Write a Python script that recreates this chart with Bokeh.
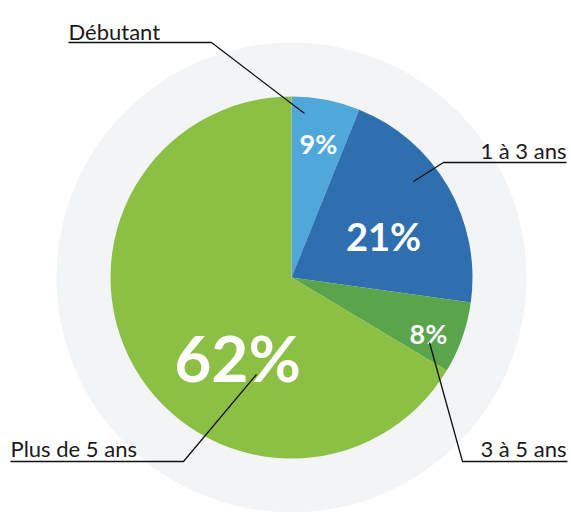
import math
from bokeh.plotting import figure
from bokeh.models import Range1d, ColumnDataSource
from bokeh.embed import file_html
from bokeh.resources import INLINE
from bokeh.core.properties import value

# ---- data ----
categories = ["Débutant", "1 à 3 ans", "3 à 5 ans", "Plus de 5 ans"]
pct_labels = ["9%", "21%", "8%", "62%"]
slice_shares = [6.1, 21.1, 6.4, 66.4]   # shares as drawn in the picture
colors = ["#4fa8d9", "#2f6fb0", "#5aa44c", "#8cc045"]

W, H = 571, 512
def Y(py):
    return H - py

p = figure(width=W, height=H, x_range=Range1d(0, W), y_range=Range1d(0, H),
           output_backend="svg", toolbar_location=None, min_border=0)
p.axis.visible = False
p.grid.visible = False
p.outline_line_color = None
p.background_fill_color = "white"

cx, cy = 291, Y(277)
R = 181
R_bg = 235

# background disc
p.circle(x=[cx], y=[cy], radius=R_bg, fill_color="#f3f4f6", line_color=None)

# wedges
total = sum(slice_shares)
starts, ends = [], []
cum = 0.0
for s in slice_shares:
    a0 = math.pi / 2 - 2 * math.pi * cum / total
    cum += s
    a1 = math.pi / 2 - 2 * math.pi * cum / total
    starts.append(a0)
    ends.append(a1)
src = ColumnDataSource(dict(start=starts, end=ends, color=colors))
p.wedge(x=cx, y=cy, radius=R, start_angle="start", end_angle="end",
        direction="clock", fill_color="color", line_color=None, source=src)

font = value("Lato")

# percentage labels (baseline positions)
pct_pos = [(318, 143, "27px"), (383, 235, "38px"), (428, 333, "27px"), (237, 357, "64px")]
for lab, (px, py, fs) in zip(pct_labels, pct_pos):
    p.text(x=[px], y=[Y(py)], text=[lab], text_color="white", text_font=font,
           text_font_style="bold", text_font_size=fs, text_align="center",
           text_baseline="alphabetic")

# category labels
cat_pos = [(68, 31, "left"), (566, 150, "right"), (566, 448, "right"), (10, 448, "left")]
for lab, (px, py, al) in zip(categories, cat_pos):
    p.text(x=[px], y=[Y(py)], text=[lab], text_color="#1a1a1a", text_font=font,
           text_font_size="22px", text_align=al, text_baseline="alphabetic")

# leader lines
leaders = [
    [(68, 42), (211, 42), (304, 113)],
    [(566, 162), (443, 162), (413, 181)],
    [(567, 461), (462, 461), (429, 342)],
    [(10, 461), (183, 461), (256, 374)],
]
for pts in leaders:
    p.line(x=[a for a, b in pts], y=[Y(b) for a, b in pts], line_color="#111111",
           line_width=1.3)

open("out.html", "w").write(file_html(p, INLINE))
